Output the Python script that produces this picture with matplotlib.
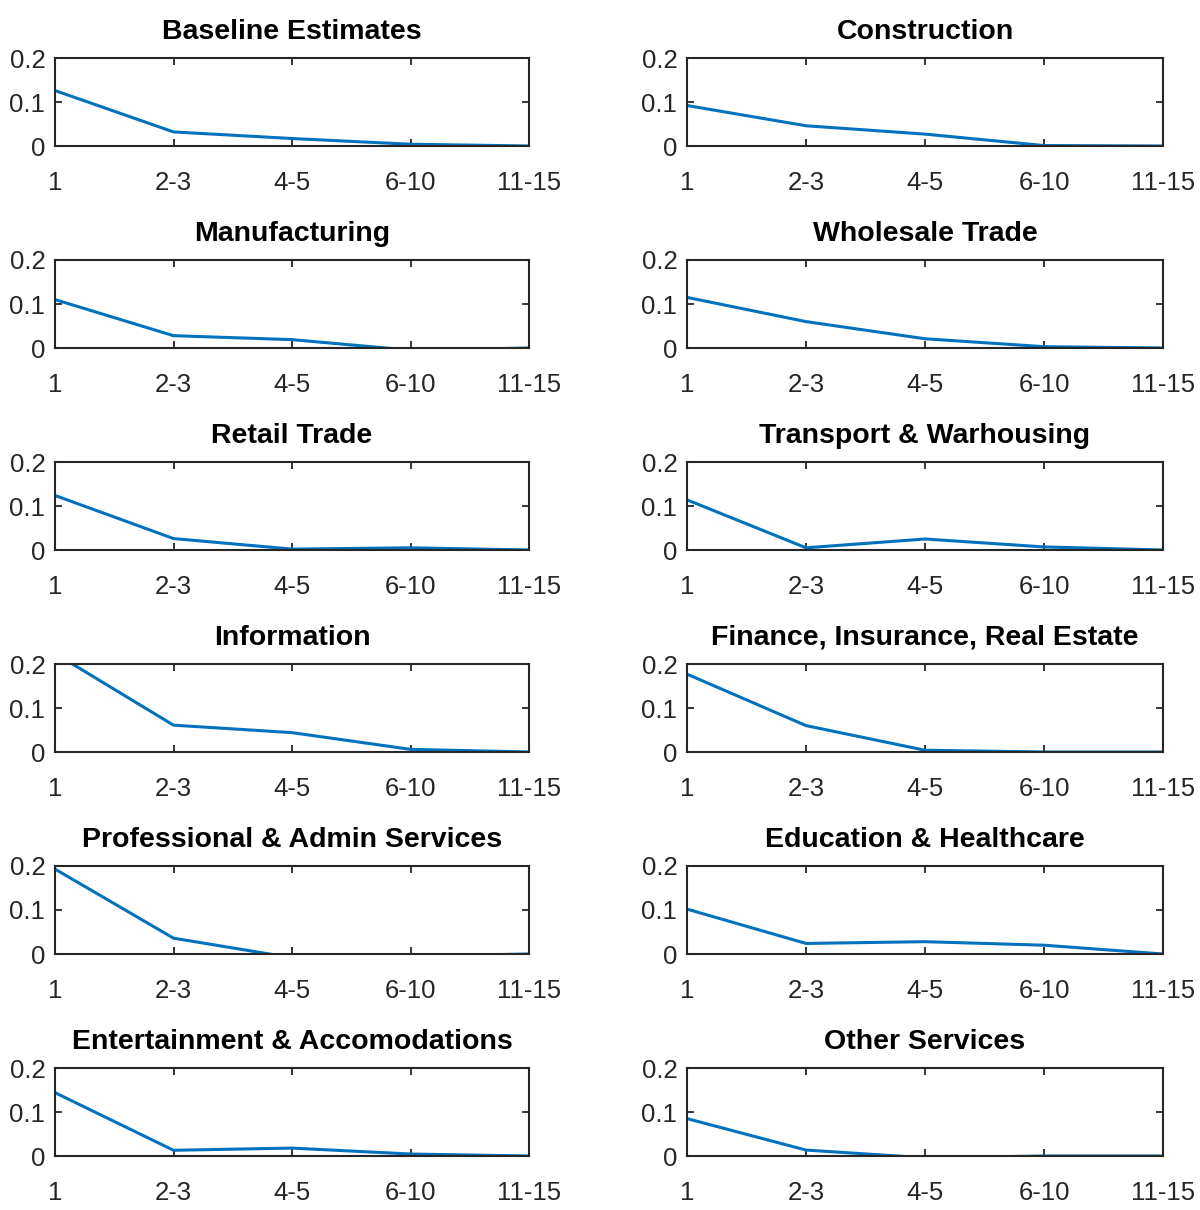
import matplotlib
matplotlib.use("Agg")
import matplotlib.pyplot as plt

# Firm-size bins on the x axis
size_bins = ["1", "2-3", "4-5", "6-10", "11-15"]

titles = [
    "Baseline Estimates", "Construction",
    "Manufacturing", "Wholesale Trade",
    "Retail Trade", "Transport & Warhousing",
    "Information", "Finance, Insurance, Real Estate",
    "Professional & Admin Services", "Education & Healthcare",
    "Entertainment & Accomodations", "Other Services",
]

baseline = [0.126, 0.032, 0.017, 0.004, 0.0]
construction = [0.092, 0.046, 0.027, 0.001, 0.0]
manufacturing = [0.110, 0.028, 0.019, -0.005, 0.0]
wholesale = [0.115, 0.060, 0.021, 0.003, 0.0]
retail = [0.124, 0.026, 0.002, 0.005, 0.0]
transport = [0.114, 0.005, 0.025, 0.007, 0.0]
information = [0.224, 0.061, 0.044, 0.006, 0.0]
finance = [0.177, 0.060, 0.004, 0.0, 0.0]
professional = [0.193, 0.036, -0.0085, -0.005, 0.0]
education = [0.102, 0.024, 0.028, 0.020, 0.0]
entertainment = [0.144, 0.013, 0.018, 0.0045, 0.0]
other = [0.085, 0.0135, -0.004, 0.0, 0.0]

series = [baseline, construction, manufacturing, wholesale, retail, transport,
          information, finance, professional, education, entertainment, other]

plt.rcParams["font.family"] = ["Liberation Sans", "DejaVu Sans"]

W, H = 1200, 1210
fig = plt.figure(figsize=(W / 100, H / 100), dpi=100)

col_left = [55, 687]
col_width = [474, 476]
row_tops = [58, 260, 462, 664, 866, 1068]
ax_h = 88

x = list(range(1, len(size_bins) + 1))
for i, (title, vals) in enumerate(zip(titles, series)):
    r, c = divmod(i, 2)
    ax = fig.add_axes([col_left[c] / W, 1 - (row_tops[r] + ax_h) / H,
                       col_width[c] / W, ax_h / H])
    ax.plot(x, vals, color="#0072BD", linewidth=2.2)
    ax.set_xlim(1, 5)
    ax.set_ylim(0, 0.2)
    ax.set_xticks(x)
    ax.set_xticklabels(size_bins)
    ax.set_yticks([0, 0.1, 0.2])
    ax.set_yticklabels(["0", "0.1", "0.2"])
    ax.tick_params(direction="in", length=5, width=1.3, top=True, right=True,
                   labelsize=18.5, colors="#262626")
    ax.tick_params(axis="x", pad=18)
    ax.tick_params(axis="y", pad=7)
    for s in ax.spines.values():
        s.set_color("#262626")
        s.set_linewidth(1.5)
    ax.set_title(title, fontsize=20.5, fontweight="bold", pad=14)

plt.savefig("out.png", dpi=100)
